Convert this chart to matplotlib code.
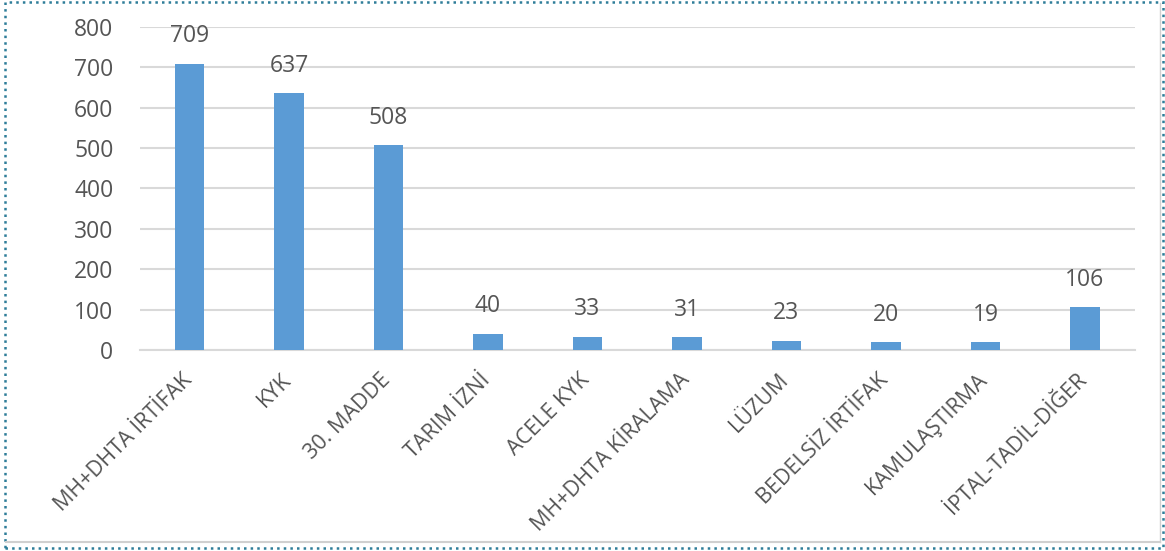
import matplotlib.pyplot as plt
from matplotlib.patches import Rectangle
from matplotlib.lines import Line2D

categories = ["MH+DHTA İRTİFAK", "KYK", "30. MADDE", "TARIM İZNİ", "ACELE KYK",
              "MH+DHTA KİRALAMA", "LÜZUM", "BEDELSİZ İRTİFAK", "KAMULAŞTIRMA",
              "İPTAL-TADİL-DİĞER"]
values = [709, 637, 508, 40, 33, 31, 23, 20, 19, 106]
yticks = [0, 100, 200, 300, 400, 500, 600, 700, 800]

plt.rcParams['font.family'] = ['Open Sans', 'DejaVu Sans']
text_color = '#555555'

fig = plt.figure(figsize=(11.65, 5.51), dpi=100)
ax = fig.add_axes([0.120, 0.365, 0.854, 0.586])

x = range(len(categories))
ax.bar(x, values, width=0.3, color='#5B9BD5', zorder=3)

for xi, v in zip(x, values):
    ax.annotate(str(v), (xi, v), xytext=(0, 11), textcoords='offset points',
                ha='center', va='bottom', fontsize=16.5, color=text_color)

# category labels, rotated 45 degrees like the Excel chart
for xi, cat in zip(x, categories):
    ax.annotate(cat, (xi, 0), xycoords=('data', 'axes fraction'),
                xytext=(-6, -14), textcoords='offset points',
                rotation=45, rotation_mode='anchor', ha='right', va='top',
                fontsize=15.5, color=text_color)

ax.set_xlim(-0.5, len(categories) - 0.5)
ax.set_ylim(0, 800)
ax.set_yticks(yticks)
ax.set_yticklabels([str(t) for t in yticks], fontsize=16.5, color=text_color)
ax.yaxis.grid(True, color='#D9D9D9', linewidth=1.5, zorder=0)
ax.set_xticks(list(x))
ax.set_xticklabels([])
ax.tick_params(axis='both', length=0)
ax.tick_params(axis='y', pad=19)
for side in ['top', 'right', 'left']:
    ax.spines[side].set_visible(False)
ax.spines['bottom'].set_color('#D9D9D9')
ax.spines['bottom'].set_linewidth(1.5)

# frame: thin gray shadow lines and dotted border
fig.add_artist(Line2D([0.005, 0.996], [0.016, 0.016], color='#D0D0D0', lw=1.5,
                      transform=fig.transFigure))
fig.add_artist(Line2D([0.996, 0.996], [0.016, 0.995], color='#D0D0D0', lw=1.0,
                      transform=fig.transFigure))
fig.add_artist(Rectangle((0.004, 0.005), 0.994, 0.991, transform=fig.transFigure,
                         fill=False, edgecolor='#2E7D99', linestyle=':', lw=1.8))

fig.savefig('out.png', dpi=100)
